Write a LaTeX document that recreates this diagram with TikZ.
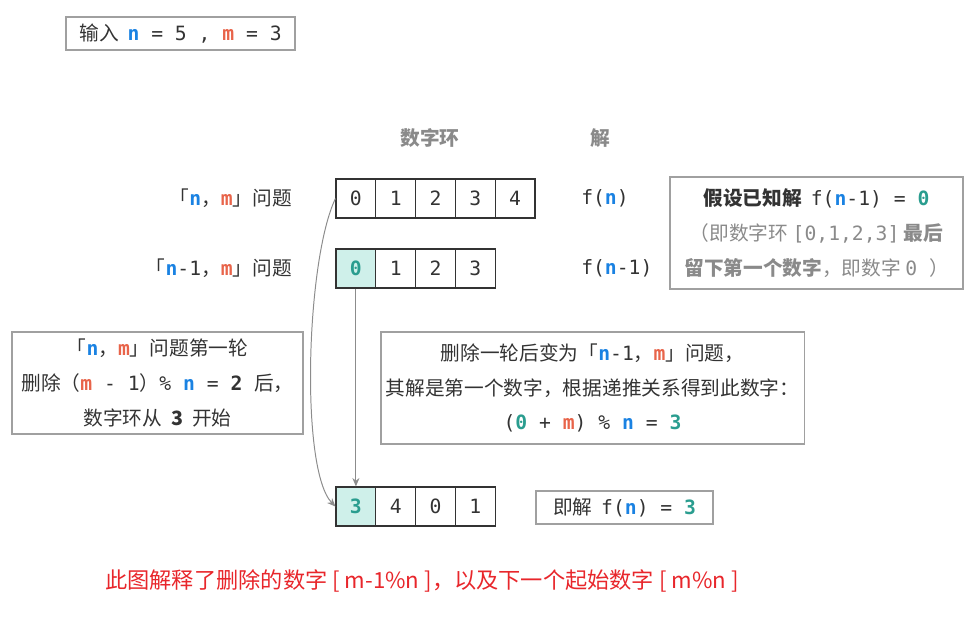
\documentclass[tikz,border=0pt]{standalone}
\usepackage{fontspec}
\setmainfont{Noto Sans CJK SC}
\setmonofont{DejaVu Sans Mono}
\usepackage{xcolor}
\usetikzlibrary{arrows.meta,positioning}

\definecolor{nblue}{HTML}{1A82E2}
\definecolor{mred}{HTML}{E8644A}
\definecolor{zteal}{HTML}{2A9D8F}
\definecolor{tealfill}{HTML}{CFF0EA}
\definecolor{boxgray}{HTML}{A0A0A0}
\definecolor{hdgray}{HTML}{8A8A8A}
\definecolor{arrgray}{HTML}{8C8C8C}
\definecolor{ink}{HTML}{333333}
\definecolor{capred}{HTML}{E8262B}

\newcommand{\bodysize}{\fontsize{14}{24.8}\selectfont}
\newcommand{\nsym}{{\ttfamily\bfseries\color{nblue}n}}
\newcommand{\msym}{{\ttfamily\bfseries\color{mred}m}}
\newcommand{\tsym}[1]{{\ttfamily\bfseries\color{zteal}#1}}

\begin{document}
\begin{tikzpicture}[x=0.025cm, y=-0.025cm,
    >={Stealth[length=6pt,width=5pt]},
    cell/.style={draw=black!80, line width=0.8pt, minimum width=0.995cm,
      minimum height=0.975cm, inner sep=0pt, font=\bodysize\ttfamily, text=ink},
    box/.style={draw=boxgray, line width=0.8pt, align=center, inner sep=0pt,
      font=\bodysize, text=ink},
    lbl/.style={font=\bodysize, text=ink, inner sep=0pt},
    hd/.style={font=\bodysize\bfseries, text=hdgray, inner sep=0pt},
    arr/.style={->, draw=arrgray, line width=0.7pt}]
  \useasboundingbox (0,0) rectangle (973,639);
  \node[box, minimum width=5.725cm, minimum height=0.825cm] (inp) at (180.5,33.5)
    {输入\ \ \texttt{\nsym{} = 5 , \msym{} = 3}};
  \node[hd] (ring) at (430,138) {数字环};
  \node[hd] (sol) at (600,138) {解};
  \foreach \v [count=\i from 0] in {0,1,2,3,4}
    \node[cell] (a\i) at (355.9+39.8*\i,198.5) {\v};
  \node[cell, fill=tealfill] (b0) at (355.9,268.5) {\tsym{0}};
  \foreach \v [count=\i] in {1,2,3}
    \node[cell] (b\i) at (355.9+39.8*\i,268.5) {\v};
  \node[cell, fill=tealfill] (c0) at (355.9,506.5) {\tsym{3}};
  \foreach \v [count=\i] in {4,0,1}
    \node[cell] (c\i) at (355.9+39.8*\i,506.5) {\v};
  \node[lbl, anchor=east] (p1) at (292,198.5) {「\nsym，\msym」问题};
  \node[lbl, anchor=east] (p2) at (292,268.5) {「\nsym\texttt{-1}，\msym」问题};
  \node[lbl, anchor=west, font=\bodysize\ttfamily] (f1) at (581,198.5) {f(\nsym)};
  \node[lbl, anchor=west, font=\bodysize\ttfamily] (f2) at (581,268.5) {f(\nsym-1)};
  \node[box, minimum width=7.325cm, minimum height=2.8cm] (known) at (816.5,233)
    {\textbf{假设已知解}\ \ \texttt{f(\nsym-1) = \tsym{0}}\\
     \color{hdgray}（即数字环\ \texttt{[0,1,2,3]}\ \textbf{最后}\\
     \color{hdgray}\textbf{留下第一个数字}，即数字\ \texttt{0 }）};
  \node[box, minimum width=7.275cm, minimum height=2.55cm] (first) at (157.5,383)
    {「\nsym，\msym」问题第一轮\\
     删除（\texttt{\msym{} - 1}）\texttt{\% \nsym{} = \textbf{2}\ }后，\\
     数字环从\ \ \textbf{3}\ \ 开始};
  \node[box, minimum width=10.575cm, minimum height=2.8cm] (rec) at (592.5,388)
    {删除一轮后变为「\nsym\texttt{-1}，\msym」问题，\\
     其解是第一个数字，根据递推关系得到此数字：\\
     \texttt{(\tsym{0} + \msym) \% \nsym{} = \tsym{3}}};
  \node[box, minimum width=4.425cm, minimum height=0.825cm] (ans) at (624.5,507.5)
    {即解\ \ \texttt{f(\nsym) = \tsym{3}}};
  \node[font=\fontsize{15.8}{18}\selectfont, text=capred, inner sep=0pt] (cap) at (422,581)
    {此图解释了删除的数字 [ m-1\%n ]，以及下一个起始数字 [ m\%n ]};
  \draw[arr] (a0.west) .. controls (306,260) and (300,470) .. (c0.west);
  \draw[arr] (b0.south) -- (c0.north);
\end{tikzpicture}
\end{document}
